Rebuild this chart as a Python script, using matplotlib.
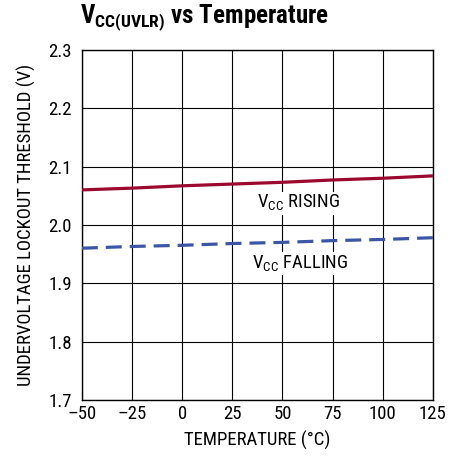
import matplotlib
matplotlib.use("Agg")
import matplotlib.pyplot as plt
from matplotlib import font_manager

# data
temps = [-50, -25, 0, 25, 50, 75, 100, 125]
vcc_rising = [2.060, 2.063, 2.067, 2.070, 2.073, 2.077, 2.080, 2.084]
vcc_falling = [1.960, 1.963, 1.965, 1.968, 1.970, 1.973, 1.975, 1.978]
x_ticks = [-50, -25, 0, 25, 50, 75, 100, 125]
y_ticks = [1.7, 1.8, 1.9, 2.0, 2.1, 2.2, 2.3]

# condensed font, like the datasheet's Helvetica Narrow
names = {f.name for f in font_manager.fontManager.ttflist}
main = 'DejaVu Sans'
for cand in ['Liberation Sans Narrow', 'Roboto Condensed', 'Archivo Narrow', 'Barlow Semi Condensed', 'Asap Condensed']:
    if cand in names:
        main = cand
        break
fam = [main, 'DejaVu Sans']
plt.rcParams['font.family'] = fam
plt.rcParams['mathtext.fontset'] = 'custom'
plt.rcParams['mathtext.rm'] = main
plt.rcParams['mathtext.bf'] = main + ':bold'

fig = plt.figure(figsize=(4.65, 4.58), dpi=100)
ax = fig.add_axes([0.176, 0.127, 0.755, 0.764])

ax.plot(temps, vcc_rising, color='#9b0a2e', lw=2.3, zorder=3)
ax.plot(temps, vcc_falling, color='#3b56a6', lw=2.3, ls=(0, (5, 2.5)), zorder=3)

ax.set_xlim(-50, 125)
ax.set_ylim(1.7, 2.3)
ax.set_xticks(x_ticks)
ax.set_yticks(y_ticks)
ax.set_xticklabels([str(t).replace('-', '\u2013') for t in x_ticks], fontsize=13.5)
ax.set_yticklabels([f"{v:.1f}" for v in y_ticks], fontsize=13.5)
ax.tick_params(axis='x', length=0, pad=4)
ax.tick_params(axis='y', length=0, pad=7)
ax.grid(True, color='black', lw=0.8)
ax.set_axisbelow(True)
for s in ax.spines.values():
    s.set_linewidth(1.0)

ax.set_xlabel("TEMPERATURE (\u00b0C)", fontsize=13.5, labelpad=5)
ax.set_ylabel("UNDERVOLTAGE LOCKOUT THRESHOLD (V)", fontsize=13.5, labelpad=9)

box = dict(facecolor='white', edgecolor='none', pad=1)
ax.text(58, 2.037, r"V$_{\mathrm{CC}}$ RISING", fontsize=13.5, ha='center', va='center', bbox=box, zorder=4)
ax.text(59, 1.933, r"V$_{\mathrm{CC}}$ FALLING", fontsize=13.5, ha='center', va='center', bbox=box, zorder=4)

fig.text(0.172, 0.95, r"$\mathbf{V_{CC(UVLR)}}$ vs Temperature", fontsize=18,
         fontweight='bold', ha='left', va='baseline')

fig.savefig("out.png", dpi=100)
